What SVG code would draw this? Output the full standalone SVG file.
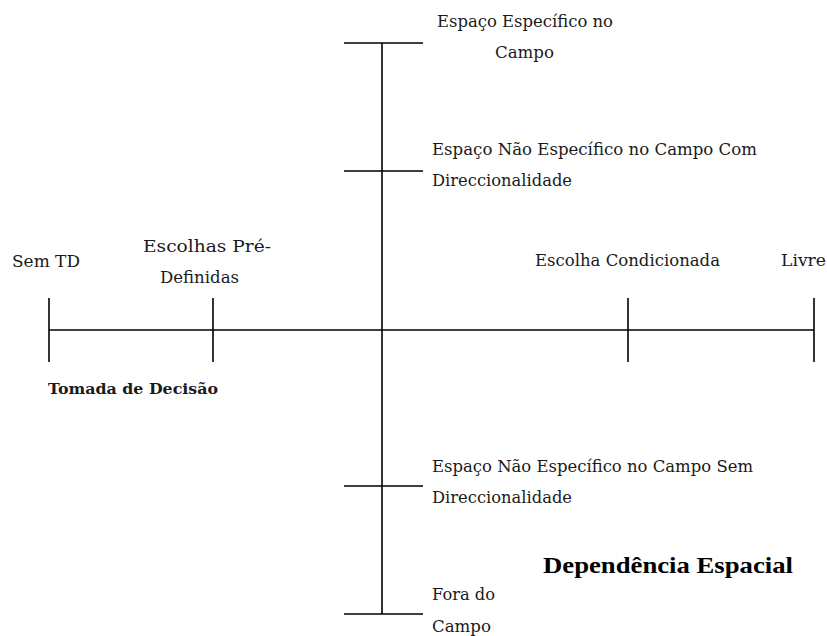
<svg xmlns="http://www.w3.org/2000/svg" width="827" height="636" viewBox="0 0 827 636">
<style>
.ln{stroke:#000;stroke-width:1.6;fill:none}
.t{font-family:"DejaVu Serif","Liberation Serif",serif;font-size:16.5px;fill:#1a1a1a}
.tb{font-family:"DejaVu Serif","Liberation Serif",serif;font-size:15.5px;font-weight:bold;fill:#1a1a1a}
.title{font-family:"Liberation Serif","Times New Roman",serif;font-size:24px;font-weight:bold;fill:#000}
</style>
<rect width="827" height="636" fill="#fff"/>
<g id="connectors">
<line class="ln" x1="382" y1="43" x2="382" y2="614"/>
<line class="ln" x1="49" y1="330" x2="814" y2="330"/>
</g>
<g id="axis-vertical">
<g id="espaco-especifico">
<line class="ln" x1="344" y1="43" x2="423" y2="43"/>
<text class="t" x="437" y="27" textLength="176" lengthAdjust="spacingAndGlyphs">Espaço Específico no</text>
<text class="t" x="495" y="58" textLength="59" lengthAdjust="spacingAndGlyphs">Campo</text>
</g>
<g id="espaco-nao-especifico-com">
<line class="ln" x1="344" y1="171" x2="423" y2="171"/>
<text class="t" x="432" y="155" textLength="325" lengthAdjust="spacingAndGlyphs">Espaço Não Específico no Campo Com</text>
<text class="t" x="432" y="186" textLength="140" lengthAdjust="spacingAndGlyphs">Direccionalidade</text>
</g>
<g id="espaco-nao-especifico-sem">
<line class="ln" x1="344" y1="486" x2="423" y2="486"/>
<text class="t" x="432" y="472" textLength="321" lengthAdjust="spacingAndGlyphs">Espaço Não Específico no Campo Sem</text>
<text class="t" x="432" y="503" textLength="140" lengthAdjust="spacingAndGlyphs">Direccionalidade</text>
</g>
<g id="fora-do-campo">
<line class="ln" x1="344" y1="614" x2="423" y2="614"/>
<text class="t" x="432" y="600" textLength="63" lengthAdjust="spacingAndGlyphs">Fora do</text>
<text class="t" x="432" y="632" textLength="59" lengthAdjust="spacingAndGlyphs">Campo</text>
</g>
<g id="dependencia-espacial">
<text class="title" x="543" y="573" textLength="250" lengthAdjust="spacingAndGlyphs">Dependência Espacial</text>
</g>
</g>
<g id="axis-horizontal">
<g id="sem-td">
<line class="ln" x1="49" y1="298" x2="49" y2="362"/>
<text class="t" x="12" y="267" textLength="68" lengthAdjust="spacingAndGlyphs">Sem TD</text>
</g>
<g id="escolhas-pre-definidas">
<line class="ln" x1="213" y1="298" x2="213" y2="362"/>
<text class="t" x="143" y="252" textLength="128" lengthAdjust="spacingAndGlyphs">Escolhas Pré-</text>
<text class="t" x="160" y="283" textLength="79" lengthAdjust="spacingAndGlyphs">Definidas</text>
</g>
<g id="escolha-condicionada">
<line class="ln" x1="628" y1="298" x2="628" y2="362"/>
<text class="t" x="535" y="266" textLength="185" lengthAdjust="spacingAndGlyphs">Escolha Condicionada</text>
</g>
<g id="livre">
<line class="ln" x1="814" y1="298" x2="814" y2="362"/>
<text class="t" x="781" y="266" textLength="45" lengthAdjust="spacingAndGlyphs">Livre</text>
</g>
<g id="tomada-de-decisao">
<text class="tb" x="48" y="394" textLength="170" lengthAdjust="spacingAndGlyphs">Tomada de Decisão</text>
</g>
</g>
</svg>
